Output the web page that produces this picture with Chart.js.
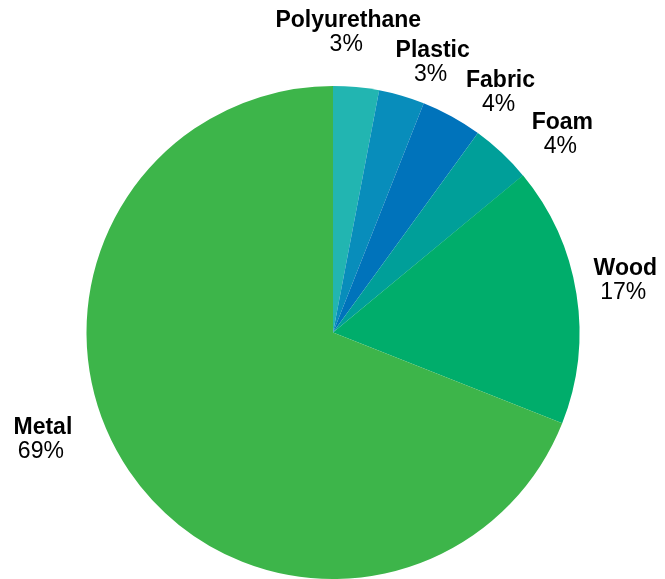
<!DOCTYPE html>
<html>
<head>
<meta charset="utf-8">
<script src="https://cdn.jsdelivr.net/npm/chart.js@4"></script>
<style>
    body { margin: 0; background: #fff; }
    #wrap { width: 665px; height: 579px; position: relative; }
</style>
</head>
<body>
<div id="wrap"><canvas id="myChart"></canvas></div>
<script>
const ctx = document.getElementById("myChart");

// materials, clockwise from 12 o'clock
const materials = ["Polyurethane", "Plastic", "Fabric", "Foam", "Wood", "Metal"];
const shares = [3, 3, 4, 4, 17, 69];
const sliceColors = ["#22b5b1", "#088dbb", "#0073bb", "#009f99", "#00ad6b", "#3db54a"];

// nudges for the outside labels (px), relative to the slice mid-angle
const labelNudge = [[-13, -7], [16, 13], [23, 17], [24, 15], [-4, -11], [-42, -67]];

const outsideLabels = {
    id: "outsideLabels",
    afterDatasetsDraw(chart) {
        const c = chart.ctx;
        const arcs = chart.getDatasetMeta(0).data;
        c.save();
        c.fillStyle = "#000";
        c.textAlign = "center";
        c.textBaseline = "alphabetic";
        arcs.forEach((arc, i) => {
            const mid = (arc.startAngle + arc.endAngle) / 2;
            const r = 300;
            const x = arc.x + Math.cos(mid) * r + labelNudge[i][0];
            const y = arc.y + Math.sin(mid) * r + labelNudge[i][1];
            c.font = "bold 23px 'Liberation Sans', Arial, sans-serif";
            c.fillText(materials[i], x, y);
            c.font = "23px 'Liberation Sans', Arial, sans-serif";
            c.fillText(shares[i] + "%", x - 2, y + 24);
        });
        c.restore();
    },
};

new Chart(ctx, {
    type: "pie",
    data: {
        labels: materials,
        datasets: [
            {
                data: shares,
                backgroundColor: sliceColors,
                borderWidth: 0,
            },
        ],
    },
    options: {
        responsive: true,
        maintainAspectRatio: false,
        animation: false,
        layout: { padding: { top: 86, left: 86, right: 85, bottom: 0 } },
        plugins: {
            legend: { display: false },
            tooltip: { enabled: false },
        },
    },
    plugins: [outsideLabels],
});
</script>
</body>
</html>
